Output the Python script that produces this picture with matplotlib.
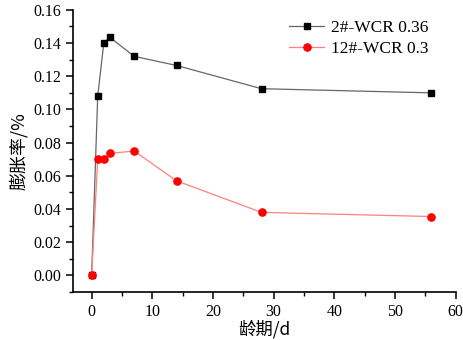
import numpy as np
import matplotlib.pyplot as plt
from matplotlib.ticker import MultipleLocator, AutoMinorLocator

# data
age_days = [0, 1, 2, 3, 7, 14, 28, 56]
exp_2_036 = [0.0, 0.108, 0.140, 0.1435, 0.132, 0.1265, 0.1125, 0.110]
exp_12_03 = [0.0, 0.070, 0.070, 0.0735, 0.075, 0.057, 0.038, 0.0355]
labels = ["2#-WCR 0.36", "12#-WCR 0.3"]

plt.rcParams['font.family'] = ['Liberation Serif', 'Noto Sans CJK SC']
cjk = ['Noto Sans CJK SC', 'DejaVu Sans']

fig = plt.figure(figsize=(4.64, 3.4), dpi=100)
ax = fig.add_axes([0.157, 0.141, 0.825, 0.83])

ax.plot(age_days, exp_2_036, color='#666666', lw=0.9, marker='s', ms=4.5,
        mfc='black', mec='black', label=labels[0])
ax.plot(age_days, exp_12_03, color='#ff8080', lw=0.9, marker='o', ms=5.2,
        mfc='red', mec='red', label=labels[1])

ax.set_xlim(-3.1, 60)
ax.set_ylim(-0.01, 0.16)
ax.xaxis.set_major_locator(MultipleLocator(10))
ax.xaxis.set_minor_locator(AutoMinorLocator(2))
ax.yaxis.set_major_locator(MultipleLocator(0.02))
ax.yaxis.set_minor_locator(AutoMinorLocator(2))
ax.yaxis.set_major_formatter(plt.FuncFormatter(lambda v, p: "%.2f" % v))

for s in ['top', 'right']:
    ax.spines[s].set_visible(False)
for s in ['left', 'bottom']:
    ax.spines[s].set_linewidth(1.2)
ax.tick_params(which='major', direction='out', length=5, width=1.1, labelsize=11.5)
ax.tick_params(which='minor', direction='out', length=3, width=1.0)

ax.set_xlabel("龄期/d", family=cjk, fontsize=12.5, labelpad=0)
ax.set_ylabel("膨胀率/%", family=cjk, fontsize=13, labelpad=4)

ax.legend(loc='upper right', bbox_to_anchor=(0.97, 1.02), frameon=False,
          fontsize=12.5, handlelength=2.0, handletextpad=0.4, labelspacing=0.3)

plt.savefig("out.png", dpi=100)
plt.close()
